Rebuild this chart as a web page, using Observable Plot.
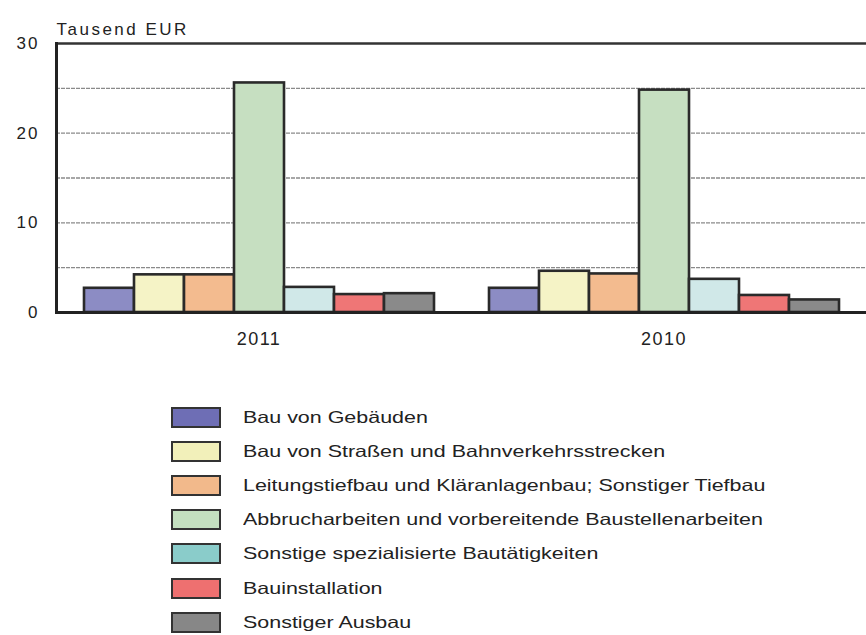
<!DOCTYPE html>
<html><head><meta charset="utf-8">
<script src="https://cdn.jsdelivr.net/npm/d3@7"></script>
<script src="https://cdn.jsdelivr.net/npm/@observablehq/plot@0.6"></script>
<style>
body{margin:0;background:#fff;font-family:"Liberation Sans",Arial,sans-serif;color:#222}
#legend{position:absolute;left:171px;top:400.5px}
.row{display:flex;align-items:center;height:34.1px}
.sw{width:50px;height:21px;border:2.5px solid #333;box-sizing:border-box;margin-right:22px;flex:none}
.lab{font-size:16.5px;color:#222;display:inline-block;transform:scaleX(1.3);transform-origin:left center;white-space:nowrap}
#chart g[aria-label="y-axis tick label"] text{letter-spacing:2px}
#chart g[aria-label="fx-axis tick label"] text{letter-spacing:1.5px}
#chart g[aria-label="text"] text{letter-spacing:2.5px}
</style></head>
<body>
<div id="chart"></div>
<div id="legend"></div>
<script>
const years = ["2011", "2010"];
const categories = [
  "Bau von Gebäuden",
  "Bau von Straßen und Bahnverkehrsstrecken",
  "Leitungstiefbau und Kläranlagenbau; Sonstiger Tiefbau",
  "Abbrucharbeiten und vorbereitende Baustellenarbeiten",
  "Sonstige spezialisierte Bautätigkeiten",
  "Bauinstallation",
  "Sonstiger Ausbau"
];
const values2011 = [2.7, 4.2, 4.2, 25.6, 2.8, 2.0, 2.1];
const values2010 = [2.7, 4.6, 4.3, 24.8, 3.7, 1.9, 1.4];
const barColors = ["#8c8cc4", "#f5f3c6", "#f3bb8f", "#c6dfc1", "#d0e8e8", "#ef7676", "#8a8a8a"];
const legendColors = ["#6e6eb5", "#f2f0ba", "#f2b98b", "#c4e0c0", "#8accca", "#ee7070", "#878787"];
const yTicks = [0, 10, 20, 30];
const gridLines = [5, 10, 15, 20, 25];
const yLabel = "Tausend EUR";

const data = [];
years.forEach((yr, j) => {
  const vals = j === 0 ? values2011 : values2010;
  categories.forEach((c, i) => data.push({year: yr, cat: c, value: vals[i]}));
});

const plot = Plot.plot({
  width: 866,
  height: 350,
  marginTop: 43,
  marginBottom: 38,
  marginLeft: 55,
  marginRight: 0,
  style: {fontFamily: "'Liberation Sans', Arial, sans-serif", color: "#222", background: "#fff"},
  fx: {domain: years, paddingInner: 0, paddingOuter: 0, label: null},
  x: {domain: categories, paddingInner: 0, paddingOuter: 0.48, axis: null},
  y: {domain: [0, 30], label: null},
  color: {domain: categories, range: barColors},
  marks: [
    Plot.ruleY(gridLines, {stroke: "#8a8a8a", strokeWidth: 1.4, strokeDasharray: "4,1"}),
    Plot.barY(data, {fx: "year", x: "cat", y: "value", fill: "cat", stroke: "#2a2a2a", strokeWidth: 2.6}),
    Plot.ruleY([0], {stroke: "#222", strokeWidth: 3}),
    Plot.ruleY([30], {stroke: "#333", strokeWidth: 2.5}),
    Plot.frame({anchor: "left", facetAnchor: "left", stroke: "#222", strokeWidth: 3}),
    Plot.axisY({ticks: yTicks, tickSize: 0, tickPadding: 17, fontSize: 17, label: null}),
    Plot.axisFx({anchor: "bottom", tickSize: 0, tickPadding: 20, fontSize: 18, label: null}),
    Plot.text([{year: "2011"}], {fx: "year", text: () => yLabel, frameAnchor: "top-left", dx: 0, dy: -21, fontSize: 17, textAnchor: "start"})
  ]
});
document.getElementById("chart").appendChild(plot);

const leg = document.getElementById("legend");
categories.forEach((c, i) => {
  const row = document.createElement("div");
  row.className = "row";
  const sw = document.createElement("div");
  sw.className = "sw";
  sw.style.background = legendColors[i];
  const lab = document.createElement("span");
  lab.className = "lab";
  lab.textContent = c;
  row.appendChild(sw); row.appendChild(lab);
  leg.appendChild(row);
});
</script>
</body></html>
